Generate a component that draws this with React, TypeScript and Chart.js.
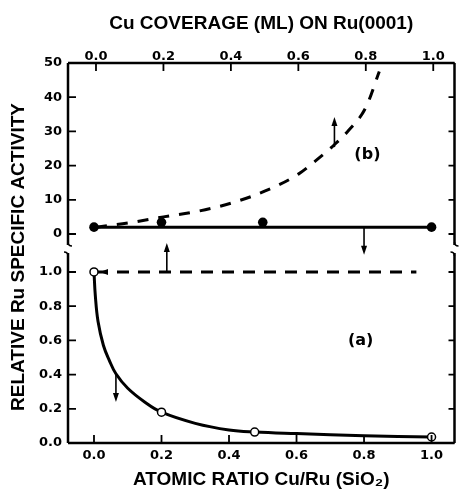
import React, { useEffect, useRef } from 'react';
import { Chart, registerables } from 'chart.js';

Chart.register(...registerables);

// ---- tick values ----
const xTicks = [0, 0.2, 0.4, 0.6, 0.8, 1.0];
const yTopTicks = [0, 10, 20, 30, 40, 50];
const yBotTicks = [0, 0.2, 0.4, 0.6, 0.8, 1.0];

// ---- (a) supported Ru/SiO2 (bottom axis) ----
const aPointsX = [0, 0.2, 0.476, 1.0];
const aPointsY = [1.0, 0.18, 0.064, 0.035];
const aCurveX = [0, 0.004, 0.012, 0.028, 0.045, 0.065, 0.1, 0.15, 0.2, 0.3, 0.4, 0.476, 0.6, 0.8, 1.0];
const aCurveY = [1.0, 0.86, 0.71, 0.57, 0.485, 0.405, 0.32, 0.24, 0.18, 0.115, 0.076, 0.064, 0.055, 0.043, 0.035];

// ---- (a) Ru(0001) (top axis) ----
const aSingleX = [0, 0.95];
const aSingleY = [1.0, 1.0];

// ---- (b) supported Ru/SiO2 (bottom axis) ----
const bPointsX = [0, 0.2, 0.5, 1.0];
const bPointsY = [2.0, 3.4, 3.4, 2.0];
const bLineX = [0, 1.0];
const bLineY = [2.0, 2.0];

// ---- (b) Ru(0001) (top axis) ----
const bSingleX = [0, 0.1, 0.2, 0.3, 0.4, 0.5, 0.6, 0.65, 0.7, 0.75, 0.8, 0.84];
const bSingleY = [2.0, 3.3, 5.0, 6.6, 9.0, 12.5, 17.5, 21.3, 25.5, 30.4, 37.0, 47.5];

// ---- arrows: which axes, x value, from value, to value ----
const arrowAxisX = ['x2', 'x', 'x', 'x2'];
const arrowAxisY = ['yb', 'yb', 'yt', 'yt'];
const arrowX = [0.21, 0.065, 0.8, 0.707];
const arrowFrom = [1.0, 0.405, 2.0, 25.4];
const arrowTo = [1.17, 0.24, -6.1, 34.2];

// ---- panel labels ----
const panelLabels = ['(a)', '(b)'];
const panelLabelX = [0.79, 0.81];
const panelLabelY = [0.6, 23.1];
const panelLabelAxis = ['yb', 'yt'];

const TITLE_FONT = { family: '"Liberation Sans", Arial, sans-serif', size: 19, weight: 'bold' as const };
const TICK_FONT = { family: '"DejaVu Sans", sans-serif', size: 13, weight: 'bold' as const };

const pts = (xs: number[], ys: number[]) => xs.map((x, i) => ({ x, y: ys[i] }));

const decor = {
  id: 'decor',
  afterDatasetsDraw(chart: any) {
    const { ctx, chartArea: ca, scales } = chart;
    const { x, x2, yt, yb } = scales;
    ctx.save();
    ctx.strokeStyle = '#000';
    ctx.fillStyle = '#000';
    ctx.lineCap = 'butt';

    // frame with break
    const brkTop = yt.getPixelForValue(-3.2);
    const brkBot = yb.getPixelForValue(1.111);
    ctx.lineWidth = 2.5;
    ctx.beginPath();
    ctx.moveTo(ca.left, ca.top);
    ctx.lineTo(ca.right, ca.top);
    ctx.moveTo(ca.left, ca.bottom);
    ctx.lineTo(ca.right, ca.bottom);
    for (const side of [ca.left, ca.right]) {
      ctx.moveTo(side, ca.top);
      ctx.lineTo(side, brkTop);
      ctx.moveTo(side, brkBot);
      ctx.lineTo(side, ca.bottom);
    }
    ctx.stroke();
    // break curls
    ctx.lineWidth = 1.6;
    for (const side of [ca.left, ca.right]) {
      ctx.beginPath();
      ctx.moveTo(side, brkTop - 3);
      ctx.quadraticCurveTo(side, brkTop + 1, side + 4, brkTop + 1);
      ctx.moveTo(side, brkBot + 3);
      ctx.quadraticCurveTo(side, brkBot - 1, side - 4, brkBot - 1);
      ctx.stroke();
    }

    // inward ticks
    const TL = 8;
    ctx.lineWidth = 1.8;
    ctx.beginPath();
    for (const v of xTicks) {
      const px = x.getPixelForValue(v);
      ctx.moveTo(px, ca.bottom);
      ctx.lineTo(px, ca.bottom - TL);
      const pt = x2.getPixelForValue(v);
      ctx.moveTo(pt, ca.top);
      ctx.lineTo(pt, ca.top + TL);
    }
    for (const v of yTopTicks) {
      const py = yt.getPixelForValue(v);
      ctx.moveTo(ca.left, py);
      ctx.lineTo(ca.left + TL, py);
      ctx.moveTo(ca.right, py);
      ctx.lineTo(ca.right - TL + 2, py);
    }
    for (const v of yBotTicks) {
      const py = yb.getPixelForValue(v);
      ctx.moveTo(ca.left, py);
      ctx.lineTo(ca.left + TL, py);
      ctx.moveTo(ca.right, py);
      ctx.lineTo(ca.right - TL + 2, py);
    }
    ctx.stroke();

    // arrows
    const arrow = (px: number, y0: number, y1: number) => {
      const dir = Math.sign(y1 - y0);
      ctx.lineWidth = 1.6;
      ctx.beginPath();
      ctx.moveTo(px, y0);
      ctx.lineTo(px, y1 - dir * 6);
      ctx.stroke();
      ctx.beginPath();
      ctx.moveTo(px, y1);
      ctx.lineTo(px - 3, y1 - dir * 9);
      ctx.lineTo(px + 3, y1 - dir * 9);
      ctx.closePath();
      ctx.fill();
    };
    arrowX.forEach((v, i) => {
      const sx = scales[arrowAxisX[i]];
      const sy = scales[arrowAxisY[i]];
      arrow(sx.getPixelForValue(v), sy.getPixelForValue(arrowFrom[i]), sy.getPixelForValue(arrowTo[i]));
    });

    // small left-pointing arrowhead at start of dashed (a)
    {
      const px = x2.getPixelForValue(aSingleX[0]) + 4;
      const py = yb.getPixelForValue(aSingleY[0]);
      ctx.beginPath();
      ctx.moveTo(px, py);
      ctx.lineTo(px + 8, py - 3);
      ctx.lineTo(px + 8, py + 3);
      ctx.closePath();
      ctx.fill();
    }

    // panel labels
    ctx.font = 'bold 16px "DejaVu Sans", sans-serif';
    ctx.textAlign = 'center';
    ctx.textBaseline = 'middle';
    panelLabels.forEach((t, i) => {
      ctx.fillText(t, x.getPixelForValue(panelLabelX[i]), scales[panelLabelAxis[i]].getPixelForValue(panelLabelY[i]));
    });

    // y title
    ctx.font = 'bold 19px "Liberation Sans", Arial, sans-serif';
    ctx.translate(ca.left - 49, (ca.top + ca.bottom) / 2 + 4);
    ctx.rotate(-Math.PI / 2);
    ctx.fillText('RELATIVE Ru SPECIFIC ACTIVITY', 0, 0);
    ctx.restore();
  },
};

const fmt1 = (v: any) => Number(v).toFixed(1);

export default function App() {
  const ref = useRef<HTMLCanvasElement | null>(null);
  useEffect(() => {
    document.body.style.margin = '0';
    const canvas = ref.current;
    if (!canvas) return;
    const chart = new Chart(canvas, {
      type: 'scatter',
      data: {
        datasets: [
          {
            data: pts(aPointsX, aPointsY),
            xAxisID: 'x', yAxisID: 'yb',
            showLine: false,
            pointRadius: 4,
            pointBorderWidth: 1.5,
            pointBackgroundColor: '#fff',
            pointBorderColor: '#000',
          },
          {
            data: pts(bPointsX, bPointsY),
            xAxisID: 'x', yAxisID: 'yt',
            showLine: false,
            pointRadius: 4.8,
            pointBorderWidth: 0,
            pointBackgroundColor: '#000',
            pointBorderColor: '#000',
          },
          {
            data: pts(aCurveX, aCurveY),
            xAxisID: 'x', yAxisID: 'yb',
            showLine: true,
            borderColor: '#000',
            borderWidth: 3,
            pointRadius: 0,
            tension: 0.4,
          },
          {
            data: pts(bLineX, bLineY),
            xAxisID: 'x', yAxisID: 'yt',
            showLine: true,
            borderColor: '#000',
            borderWidth: 3,
            pointRadius: 0,
          },
          {
            data: pts(aSingleX, aSingleY),
            xAxisID: 'x2', yAxisID: 'yb',
            showLine: true,
            borderColor: '#000',
            borderWidth: 3,
            borderDash: [12, 9],
            pointRadius: 0,
          },
          {
            data: pts(bSingleX, bSingleY),
            xAxisID: 'x2', yAxisID: 'yt',
            showLine: true,
            borderColor: '#000',
            borderWidth: 3,
            borderDash: [11, 10],
            pointRadius: 0,
            cubicInterpolationMode: 'monotone',
          },
        ],
      },
      options: {
        animation: false,
        responsive: false,
        maintainAspectRatio: false,
        layout: { padding: { left: 0, right: 4, top: 0, bottom: 0 } },
        plugins: { legend: { display: false }, tooltip: { enabled: false } },
        scales: {
          x: {
            type: 'linear',
            position: 'bottom',
            min: -0.077,
            max: 1.068,
            afterBuildTicks: (s: any) => { s.ticks = xTicks.map((value) => ({ value })); },
            afterFit: (s: any) => { s.height = 48; },
            ticks: { callback: fmt1, font: TICK_FONT, color: '#000', padding: 5, maxRotation: 0, autoSkip: false },
            grid: { display: false, drawTicks: false },
            border: { display: false },
            title: { display: true, text: 'ATOMIC RATIO Cu/Ru (SiO\u2082)', font: TITLE_FONT, color: '#000', padding: { top: 0, bottom: 0 } },
          },
          x2: {
            type: 'linear',
            position: 'top',
            min: -0.083,
            max: 1.063,
            afterBuildTicks: (s: any) => { s.ticks = xTicks.map((value) => ({ value })); },
            afterFit: (s: any) => { s.height = 63; },
            ticks: { callback: fmt1, font: TICK_FONT, color: '#000', padding: -1, maxRotation: 0, autoSkip: false },
            grid: { display: false, drawTicks: false },
            border: { display: false },
            title: { display: true, text: 'Cu COVERAGE (ML) ON Ru(0001)', font: TITLE_FONT, color: '#000', padding: { top: 12, bottom: 0 } },
          },
          yt: {
            type: 'linear',
            position: 'left',
            stack: 'ystack',
            stackWeight: 1,
            weight: 1,
            min: -5.56,
            max: 50,
            afterBuildTicks: (s: any) => { s.ticks = yTopTicks.map((value) => ({ value })); },
            afterFit: (s: any) => { s.width = 68; },
            ticks: { callback: (v: any) => String(v), font: TICK_FONT, color: '#000', padding: 6, autoSkip: false },
            grid: { display: false, drawTicks: false },
            border: { display: false },
          },
          yb: {
            type: 'linear',
            position: 'left',
            stack: 'ystack',
            stackWeight: 1,
            weight: 0,
            min: 0,
            max: 1.111,
            afterBuildTicks: (s: any) => { s.ticks = yBotTicks.map((value) => ({ value })); },
            afterFit: (s: any) => { s.width = 68; },
            ticks: { callback: fmt1, font: TICK_FONT, color: '#000', padding: 6, autoSkip: false },
            grid: { display: false, drawTicks: false },
            border: { display: false },
          },
        },
      } as any,
      plugins: [decor],
    });
    return () => chart.destroy();
  }, []);
  return (
    <div style={{ width: 460, height: 491, background: '#fff' }}>
      <canvas ref={ref} width={460} height={491} style={{ display: 'block', width: 460, height: 491 }} />
    </div>
  );
}
